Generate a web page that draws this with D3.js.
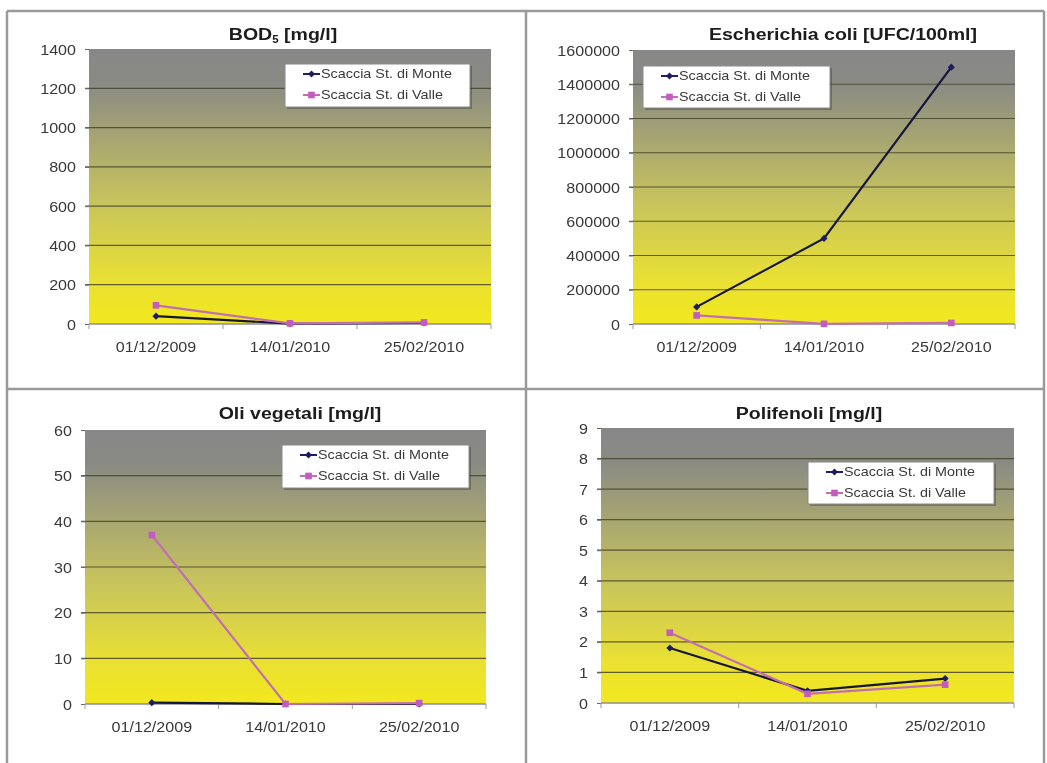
<!DOCTYPE html>
<html><head><meta charset="utf-8">
<script src="https://cdn.jsdelivr.net/npm/d3@7"></script>
<style>body{margin:0;background:#fff}svg{display:block}</style>
</head><body>
<svg id="c" width="1047" height="763"></svg>
<script>
// ---- data ----
const categories = ["01/12/2009", "14/01/2010", "25/02/2010"];
const seriesNames = ["Scaccia St. di Monte", "Scaccia St. di Valle"];

const bodMonte = [40, 2, 5];
const bodValle = [95, 3, 8];
const bodTicks = [0, 200, 400, 600, 800, 1000, 1200, 1400];

const ecoliMonte = [100000, 500000, 1500000];
const ecoliValle = [50000, 1000, 6000];
const ecoliTicks = [0, 200000, 400000, 600000, 800000, 1000000, 1200000, 1400000, 1600000];

const oliMonte = [0.3, 0, 0];
const oliValle = [37, 0, 0.2];
const oliTicks = [0, 10, 20, 30, 40, 50, 60];

const poliMonte = [1.8, 0.4, 0.8];
const poliValle = [2.3, 0.3, 0.6];
const poliTicks = [0, 1, 2, 3, 4, 5, 6, 7, 8, 9];

// ---- layout ----
const SX = 1.15; // horizontal stretch of the original raster text
const FONT = "'Liberation Sans', Arial, sans-serif";
const colMonte = "#15153a", mkMonte = "#1c1c60";
const colValle = "#c070b0", mkValle = "#c25cc0";

const panels = [
  {title: "BOD", sub: "5", unit: " [mg/l]", monte: bodMonte, valle: bodValle, ticks: bodTicks,
   plot: {l: 89, r: 491, t: 49, b: 324}, tx: 283, ty: 40, lg: {x: 285, y: 64, w: 185, h: 43}},
  {title: "Escherichia coli [UFC/100ml]", monte: ecoliMonte, valle: ecoliValle, ticks: ecoliTicks,
   plot: {l: 633, r: 1015, t: 50, b: 324}, tx: 843, ty: 40, lg: {x: 643, y: 66, w: 187, h: 42}},
  {title: "Oli vegetali [mg/l]", monte: oliMonte, valle: oliValle, ticks: oliTicks,
   plot: {l: 85, r: 486, t: 430, b: 704}, tx: 300, ty: 419, lg: {x: 282, y: 445, w: 187, h: 43}},
  {title: "Polifenoli [mg/l]", monte: poliMonte, valle: poliValle, ticks: poliTicks,
   plot: {l: 601, r: 1014, t: 428, b: 703}, tx: 809, ty: 419, lg: {x: 808, y: 462, w: 186, h: 42}}
];

const svg = d3.select("#c");
const defs = svg.append("defs");
const grad = defs.append("linearGradient").attr("id", "bg")
  .attr("x1", 0).attr("y1", 0).attr("x2", 0).attr("y2", 1);
grad.append("stop").attr("offset", "0%").attr("stop-color", "#878787");
grad.append("stop").attr("offset", "12%").attr("stop-color", "#8a8a84");
grad.append("stop").attr("offset", "55%").attr("stop-color", "#c6c35e");
grad.append("stop").attr("offset", "85%").attr("stop-color", "#eae132");
grad.append("stop").attr("offset", "100%").attr("stop-color", "#f2e81e");

const flt = defs.append("filter").attr("id", "blur").attr("x", "-5%").attr("y", "-5%").attr("width", "110%").attr("height", "110%");
flt.append("feGaussianBlur").attr("stdDeviation", 0.35);

// cell borders
const borderCol = "#9a9a9a";
const borders = svg.append("g").attr("stroke", borderCol).attr("stroke-width", 2.5);
borders.append("line").attr("x1", 7).attr("x2", 7).attr("y1", 11).attr("y2", 763);
borders.append("line").attr("x1", 1044).attr("x2", 1044).attr("y1", 11).attr("y2", 763);
borders.append("line").attr("x1", 7).attr("x2", 1044).attr("y1", 11).attr("y2", 11);
borders.append("line").attr("x1", 526).attr("x2", 526).attr("y1", 11).attr("y2", 763);
borders.append("line").attr("x1", 7).attr("x2", 1044).attr("y1", 389).attr("y2", 389);

function stretchText(g, x, y, anchor) {
  return g.append("g").attr("transform", `translate(${x},${y}) scale(${SX},1)`)
    .append("text").attr("text-anchor", anchor).attr("font-family", FONT);
}

panels.forEach(p => {
  const g = svg.append("g").attr("filter", "url(#blur)");
  const x = d3.scaleBand().domain(categories).range([p.plot.l, p.plot.r]).paddingInner(0).paddingOuter(0);
  const y = d3.scaleLinear().domain([0, d3.max(p.ticks)]).range([p.plot.b, p.plot.t]);

  // plot background
  g.append("rect").attr("x", p.plot.l).attr("y", p.plot.t)
    .attr("width", p.plot.r - p.plot.l).attr("height", p.plot.b - p.plot.t)
    .attr("fill", "url(#bg)");

  // gridlines
  g.append("g").selectAll("line").data(p.ticks.filter(t => t > 0 && t < d3.max(p.ticks))).join("line")
    .attr("x1", p.plot.l - 4).attr("x2", p.plot.r)
    .attr("y1", d => y(d)).attr("y2", d => y(d))
    .attr("stroke", "#45452a").attr("stroke-opacity", 0.85).attr("stroke-width", 1.2);

  // y axis
  const ya = g.append("g").attr("transform", `translate(${p.plot.l},0)`)
    .call(d3.axisLeft(y).tickValues(p.ticks).tickSize(4).tickFormat(d3.format("d")));
  ya.select(".domain").remove();
  ya.selectAll(".tick line").attr("stroke", "#6a6a5a");
  ya.selectAll(".tick text")
    .attr("x", 0).attr("dy", "0.36em")
    .attr("transform", `translate(-13,0) scale(${SX},1)`)
    .attr("font-family", FONT).attr("font-size", 14).attr("fill", "#383838");

  // x axis
  const xa = g.append("g").attr("transform", `translate(0,${p.plot.b})`);
  xa.append("line").attr("x1", p.plot.l).attr("x2", p.plot.r).attr("y1", 0).attr("y2", 0)
    .attr("stroke", "#8c8c96").attr("stroke-width", 1.5);
  const bounds = [p.plot.l].concat(categories.map(c => x(c) + x.bandwidth()));
  xa.selectAll("line.tk").data(bounds).join("line").attr("class", "tk")
    .attr("x1", d => d).attr("x2", d => d).attr("y1", 0).attr("y2", 5)
    .attr("stroke", "#9a9aa0").attr("stroke-width", 1);
  categories.forEach(c => {
    stretchText(xa, x(c) + x.bandwidth() / 2, 28, "middle")
      .attr("font-size", 14).attr("fill", "#383838").text(c);
  });

  // series
  const line = d3.line().x((d, i) => x(categories[i]) + x.bandwidth() / 2).y(d => y(d));
  const series = [
    {vals: p.monte, col: colMonte, mk: mkMonte, sym: d3.symbolDiamond2, size: 32},
    {vals: p.valle, col: colValle, mk: mkValle, sym: d3.symbolSquare, size: 44}
  ];
  series.forEach(s => {
    g.append("path").datum(s.vals).attr("d", line).attr("fill", "none")
      .attr("stroke", s.col).attr("stroke-width", 2.2);
    g.append("g").selectAll("path").data(s.vals).join("path")
      .attr("d", d3.symbol().type(s.sym).size(s.size))
      .attr("transform", (d, i) => `translate(${x(categories[i]) + x.bandwidth() / 2},${y(d)})`)
      .attr("fill", s.mk);
  });

  // title
  const t = stretchText(g, p.tx, p.ty, "middle").attr("font-size", 17).attr("font-weight", "bold").attr("fill", "#1a1a1a");
  if (p.sub) {
    t.append("tspan").text(p.title);
    t.append("tspan").attr("font-size", 10).attr("dy", 3).text(p.sub);
    t.append("tspan").attr("dy", -3).text(p.unit);
  } else {
    t.text(p.title);
  }

  // legend
  const lg = g.append("g").attr("transform", `translate(${p.lg.x},${p.lg.y})`);
  lg.append("rect").attr("x", 2).attr("y", 2).attr("width", p.lg.w).attr("height", p.lg.h)
    .attr("fill", "#000").attr("fill-opacity", 0.25);
  lg.append("rect").attr("width", p.lg.w).attr("height", p.lg.h)
    .attr("fill", "#fff").attr("stroke", "#8a8a8a").attr("stroke-width", 1);
  seriesNames.forEach((name, i) => {
    const s = series[i];
    const yy = i === 0 ? 10 : 31;
    lg.append("line").attr("x1", 18).attr("x2", 35).attr("y1", yy).attr("y2", yy)
      .attr("stroke", i === 0 ? "#1c1c70" : colValle).attr("stroke-width", 2);
    lg.append("path").attr("d", d3.symbol().type(s.sym).size(s.size))
      .attr("transform", `translate(26.5,${yy})`).attr("fill", s.mk);
    stretchText(lg, 36, yy, "start").attr("dy", "0.35em")
      .attr("font-size", 12.5).attr("fill", "#3a3a3a").text(name);
  });
});
</script>
</body></html>
